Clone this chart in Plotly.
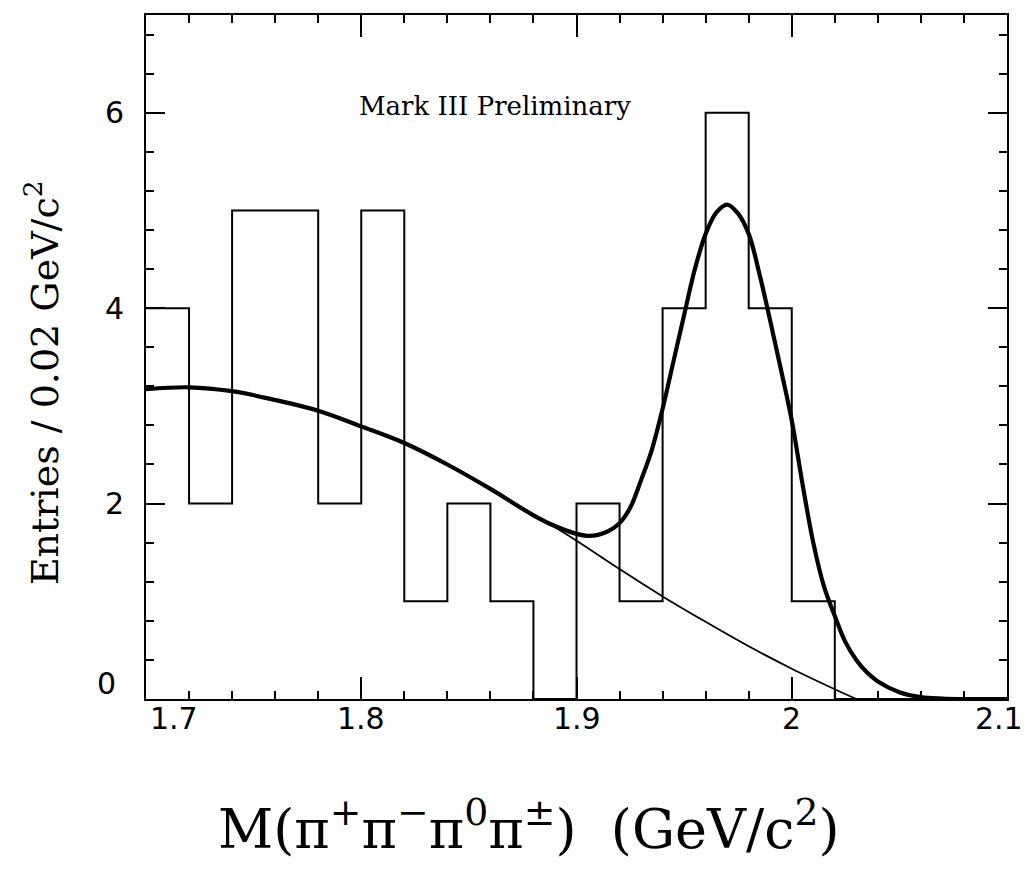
import plotly.graph_objects as go

# Histogram: bin edges (GeV/c^2) and entries per 0.02 GeV/c^2 bin
bin_edges = [1.70, 1.72, 1.74, 1.76, 1.78, 1.80, 1.82, 1.84, 1.86, 1.88,
             1.90, 1.92, 1.94, 1.96, 1.98, 2.00, 2.02, 2.10]
entries = [4, 2, 5, 5, 2, 5, 1, 2, 1, 0, 2, 1, 4, 6, 4, 1, 0]

# Total fit (signal + background)
fit_x = [1.70, 1.72, 1.74, 1.76, 1.78, 1.80, 1.82, 1.84, 1.86, 1.88, 1.89,
         1.90, 1.905, 1.91, 1.915, 1.92, 1.925, 1.93, 1.935, 1.94, 1.945,
         1.95, 1.955, 1.96, 1.965, 1.97, 1.975, 1.98, 1.985, 1.99, 1.995,
         2.00, 2.005, 2.01, 2.015, 2.02, 2.025, 2.03, 2.035, 2.04, 2.05,
         2.06, 2.07, 2.08, 2.10]
fit_y = [3.17, 3.19, 3.15, 3.06, 2.95, 2.79, 2.62, 2.40, 2.15, 1.88, 1.77,
         1.69, 1.67, 1.68, 1.72, 1.80, 1.96, 2.24, 2.55, 2.97, 3.45,
         3.93, 4.40, 4.76, 4.98, 5.06, 4.97, 4.76, 4.35, 3.87, 3.37,
         2.85, 2.20, 1.60, 1.15, 0.85, 0.58, 0.40, 0.27, 0.18, 0.07,
         0.02, 0.005, 0.0, 0.0]

# Background component of the fit
bkg_x = [1.70, 1.72, 1.74, 1.76, 1.78, 1.80, 1.82, 1.84, 1.86, 1.88, 1.90,
         1.92, 1.94, 1.96, 1.98, 2.00, 2.02, 2.03]
bkg_y = [3.17, 3.19, 3.15, 3.06, 2.95, 2.79, 2.62, 2.40, 2.15, 1.89, 1.62,
         1.33, 1.05, 0.79, 0.54, 0.31, 0.10, 0.0]

x_tickvals = [1.7, 1.8, 1.9, 2.0, 2.1]
x_ticktext = ["1.7", "1.8", "1.9", "2", "2.1"]
y_tickvals = [0, 2, 4, 6]
y_ticktext = ["0", "2", "4", "6"]

# step outline of histogram
hx = []
hy = []
for i, c in enumerate(entries):
    hx += [bin_edges[i], bin_edges[i + 1]]
    hy += [c, c]

fig = go.Figure()
fig.add_trace(go.Scatter(x=hx, y=hy, mode="lines",
                         line=dict(color="black", width=2), hoverinfo="skip"))
fig.add_trace(go.Scatter(x=bkg_x, y=bkg_y, mode="lines", line_shape="spline",
                         line=dict(color="black", width=1.8), hoverinfo="skip"))
fig.add_trace(go.Scatter(x=fit_x, y=fit_y, mode="lines", line_shape="spline",
                         line=dict(color="black", width=4.2), hoverinfo="skip"))

tick_font = dict(family="DejaVu Sans", size=30, color="black")
serif = "DejaVu Serif"

annotations = []
# x tick labels (end labels sit slightly inward, as in the reference)
x_shifts = {0: 28, len(x_tickvals) - 1: -8}
for i, (v, t) in enumerate(zip(x_tickvals, x_ticktext)):
    annotations.append(dict(text=t, x=v, y=0, xref="x", yref="paper",
                            xanchor="center", yanchor="top", yshift=0,
                            xshift=x_shifts.get(i, 0), showarrow=False,
                            font=tick_font))
for v, t in zip(y_tickvals, y_ticktext):
    annotations.append(dict(text=t, x=0, y=v, xref="paper", yref="y",
                            xanchor="right", yanchor="middle",
                            xshift=-28 if v == 0 else -20,
                            yshift=16 if v == 0 else 0, showarrow=False,
                            font=tick_font))

annotations += [
    dict(text="Mark III Preliminary", x=0.405, y=0.892, xref="paper",
         yref="paper", showarrow=False,
         font=dict(family=serif, size=26, color="black")),
    dict(text="M(π<sup>+</sup>π<sup>−</sup>π<sup>0</sup>π<sup>±</sup>)  (GeV/c<sup>2</sup>)",
         x=0.445, y=-0.24, xref="paper", yref="paper", showarrow=False,
         font=dict(family=serif, size=54, color="black")),
    dict(text="Entries / 0.02 GeV/c<sup>2</sup>", x=-0.152, y=0.462,
         xref="paper", yref="paper", showarrow=False, textangle=-90,
         font=dict(family=serif, size=38, color="black")),
]

fig.update_layout(
    width=1029, height=883,
    margin=dict(l=146, r=22, t=15, b=184),
    paper_bgcolor="white", plot_bgcolor="white",
    showlegend=False,
    xaxis=dict(range=[1.7, 2.1], tickvals=x_tickvals, showticklabels=False,
               ticks="inside", ticklen=22, tickwidth=2, tickcolor="black",
               minor=dict(dtick=0.02, tick0=1.7, ticks="inside", ticklen=8,
                          tickwidth=2, tickcolor="black"),
               showline=True, linecolor="black", linewidth=2, mirror="ticks",
               showgrid=False, zeroline=False),
    yaxis=dict(range=[0, 7], tickvals=y_tickvals, showticklabels=False,
               ticks="inside", ticklen=19, tickwidth=2, tickcolor="black",
               minor=dict(dtick=0.4, tick0=0, ticks="inside", ticklen=8,
                          tickwidth=2, tickcolor="black"),
               showline=True, linecolor="black", linewidth=2, mirror="ticks",
               showgrid=False, zeroline=False),
    annotations=annotations,
)

fig.write_html("out.html")
